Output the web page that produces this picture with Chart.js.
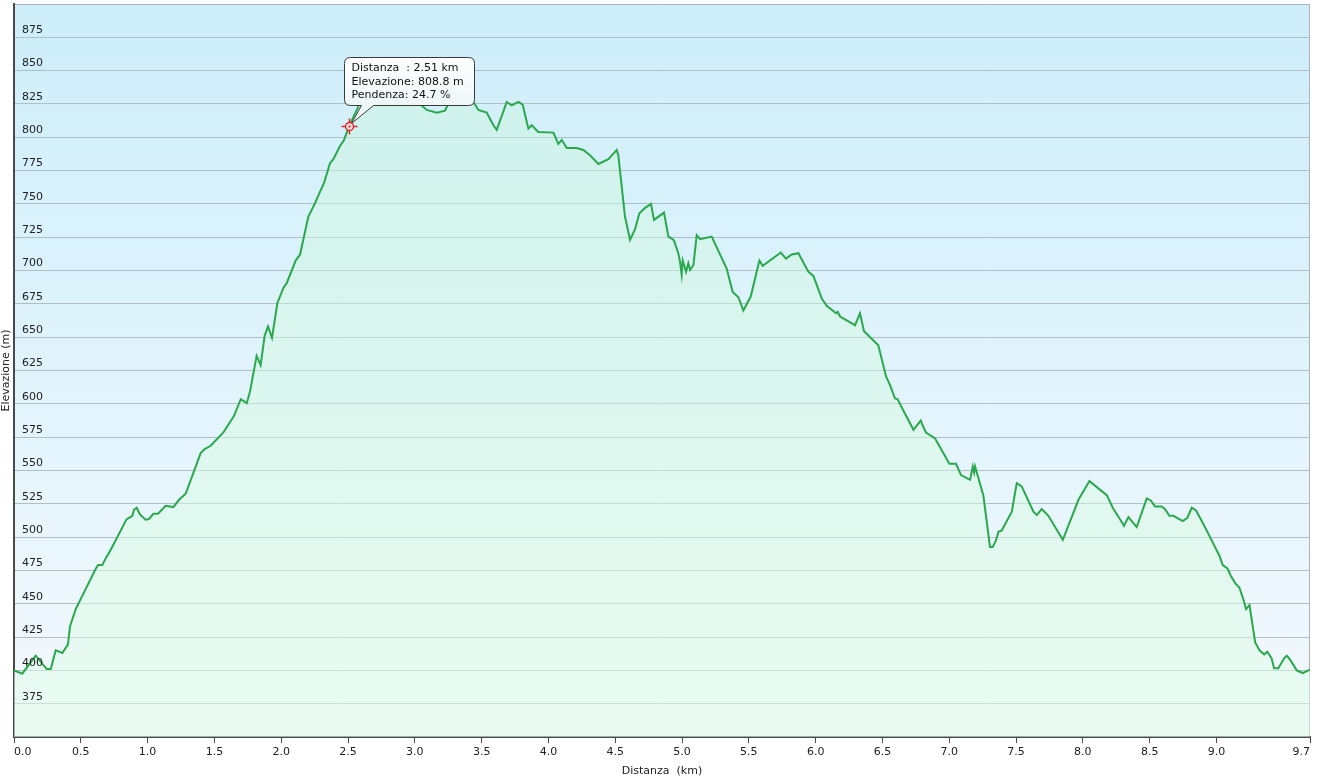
<!DOCTYPE html>
<html>
<head>
<meta charset="utf-8">
<script src="https://cdn.jsdelivr.net/npm/chart.js@4.4.1/dist/chart.umd.min.js"></script>
<style>
  html, body { margin: 0; padding: 0; background: #fff; }
  #wrap { width: 1318px; height: 778px; }
</style>
</head>
<body>
<div id="wrap"><canvas id="profile" width="1318" height="778"></canvas></div>
<script>
// elevation profile
const DIST_KM = [
  0.000, 0.062, 0.162, 0.245, 0.275, 0.312, 0.362, 0.404, 0.419, 0.462,
  0.524, 0.611, 0.629, 0.661, 0.686, 0.724, 0.843, 0.886, 0.898, 0.918,
  0.943, 0.985, 1.010, 1.043, 1.078, 1.135, 1.193, 1.235, 1.285, 1.397,
  1.427, 1.472, 1.567, 1.647, 1.697, 1.742, 1.766, 1.816, 1.846, 1.876,
  1.901, 1.931, 1.971, 2.016, 2.041, 2.108, 2.141, 2.203, 2.253, 2.290,
  2.320, 2.365, 2.390, 2.440, 2.470, 2.510, 2.577, 2.605, 2.687, 2.777,
  2.889, 3.050, 3.089, 3.164, 3.226, 3.263, 3.363, 3.438, 3.476, 3.538,
  3.588, 3.613, 3.688, 3.725, 3.775, 3.807, 3.850, 3.875, 3.924, 4.037,
  4.074, 4.100, 4.137, 4.212, 4.262, 4.311, 4.374, 4.449, 4.511, 4.523,
  4.573, 4.611, 4.648, 4.681, 4.723, 4.768, 4.790, 4.865, 4.898, 4.923,
  4.940, 4.972, 4.985, 4.997, 5.005, 5.030, 5.047, 5.060, 5.085, 5.110,
  5.135, 5.222, 5.334, 5.379, 5.422, 5.459, 5.514, 5.579, 5.604, 5.739,
  5.778, 5.821, 5.871, 5.946, 5.983, 6.046, 6.083, 6.153, 6.165, 6.183,
  6.295, 6.332, 6.362, 6.469, 6.527, 6.557, 6.594, 6.612, 6.732, 6.787,
  6.802, 6.826, 6.894, 7.001, 7.051, 7.088, 7.156, 7.176, 7.186, 7.193,
  7.255, 7.305, 7.325, 7.350, 7.368, 7.393, 7.468, 7.505, 7.542, 7.630,
  7.655, 7.692, 7.742, 7.850, 7.967, 8.049, 8.179, 8.224, 8.308, 8.341,
  8.403, 8.478, 8.508, 8.540, 8.590, 8.615, 8.648, 8.678, 8.748, 8.782,
  8.815, 8.847, 8.890, 8.952, 9.022, 9.047, 9.082, 9.107, 9.140, 9.172,
  9.202, 9.222, 9.247, 9.290, 9.322, 9.357, 9.380, 9.413, 9.431, 9.463,
  9.506, 9.526, 9.551, 9.601, 9.646, 9.688, 9.700
];
const ELEV_M = [
  400.0, 397.5, 411.0, 401.0, 401.0, 415.0, 413.0, 419.5, 433.0, 446.0,
  458.5, 476.0, 479.0, 479.0, 484.0, 490.5, 513.5, 516.0, 520.5, 522.0,
  517.0, 513.0, 513.5, 517.5, 517.5, 523.5, 522.5, 528.0, 532.5, 563.0,
  566.0, 568.5, 578.5, 591.0, 603.5, 600.5, 609.0, 636.0, 629.0, 651.0,
  658.0, 649.5, 675.5, 687.0, 690.5, 707.5, 712.0, 740.5, 750.5, 759.0,
  765.5, 780.5, 783.5, 793.5, 798.0, 808.8, 823.0, 833.0, 845.0, 843.0,
  829.0, 824.0, 820.5, 818.5, 820.0, 828.0, 840.5, 826.5, 820.5, 818.5,
  809.0, 805.5, 826.5, 824.0, 826.5, 824.5, 806.5, 809.0, 804.0, 803.5,
  795.0, 798.0, 792.0, 792.0, 790.5, 786.5, 780.0, 783.5, 790.5, 786.5,
  740.5, 723.0, 731.0, 743.0, 747.0, 750.0, 738.0, 743.5, 725.5, 724.0,
  722.5, 713.0, 706.5, 697.0, 707.5, 699.0, 705.5, 700.5, 704.0, 726.5,
  723.5, 725.5, 701.5, 684.0, 680.0, 670.0, 680.5, 707.5, 703.5, 713.5,
  709.0, 712.0, 713.0, 699.0, 696.0, 679.0, 673.5, 668.0, 669.0, 665.5,
  659.0, 668.0, 654.5, 644.0, 620.5, 614.0, 604.0, 603.5, 580.5, 587.5,
  583.5, 578.5, 574.0, 555.0, 555.0, 546.5, 543.0, 553.0, 548.5, 553.0,
  531.5, 492.5, 492.5, 497.5, 504.0, 505.0, 519.0, 540.5, 538.0, 519.0,
  516.5, 521.0, 516.0, 498.0, 528.0, 542.0, 531.5, 522.0, 508.5, 515.0,
  507.5, 529.0, 527.5, 523.0, 523.0, 521.0, 516.0, 516.0, 512.0, 514.5,
  522.0, 520.0, 512.0, 500.0, 486.0, 479.0, 476.5, 471.0, 465.5, 462.0,
  453.0, 446.0, 449.0, 421.0, 415.0, 412.0, 414.0, 409.0, 401.5, 401.5,
  409.0, 411.0, 408.0, 400.0, 398.0, 400.0, 400.5
];

const X_TICKS = [0, 0.5, 1, 1.5, 2, 2.5, 3, 3.5, 4, 4.5, 5, 5.5, 6, 6.5, 7, 7.5, 8, 8.5, 9, 9.7];
const Y_TICKS = [375, 400, 425, 450, 475, 500, 525, 550, 575, 600, 625, 650, 675, 700, 725, 750, 775, 800, 825, 850, 875];
const Y_MIN = 350, Y_MAX = 900;

// hovered point shown in the picture
const MARKER_KM = 2.51;
const MARKER_ELEV = 808.8;
const CALLOUT_LINES = ['Distanza  : 2.51 km', 'Elevazione: 808.8 m', 'Pendenza: 24.7 %'];

const FONT = "'DejaVu Sans', Verdana, sans-serif";

const plotBackground = {
  id: 'plotBackground',
  beforeDraw(chart) {
    const { ctx, chartArea: a } = chart;
    const g = ctx.createLinearGradient(0, a.top, 0, a.bottom);
    g.addColorStop(0, '#cdeefa');
    g.addColorStop(1, '#f4f9fe');
    ctx.save();
    ctx.fillStyle = g;
    ctx.fillRect(a.left, a.top, a.right - a.left, a.bottom - a.top);
    ctx.strokeStyle = '#a8b2b8';
    ctx.lineWidth = 1;
    ctx.beginPath();
    ctx.moveTo(a.left, a.top + 0.5);
    ctx.lineTo(a.right - 0.5, a.top + 0.5);
    ctx.lineTo(a.right - 0.5, a.bottom);
    ctx.stroke();
    ctx.restore();
  }
};

const callout = {
  id: 'callout',
  afterDatasetsDraw(chart) {
    const { ctx, scales: { x, y } } = chart;
    const px = Math.round(x.getPixelForValue(MARKER_KM)) + 0.5;
    const py = Math.round(y.getPixelForValue(MARKER_ELEV)) + 0.5;
    const bx = px - 5, by = py - 69, bw = 130, bh = 48, r = 6;

    ctx.save();
    // bubble with tail
    ctx.beginPath();
    ctx.moveTo(bx + r, by);
    ctx.lineTo(bx + bw - r, by);
    ctx.quadraticCurveTo(bx + bw, by, bx + bw, by + r);
    ctx.lineTo(bx + bw, by + bh - r);
    ctx.quadraticCurveTo(bx + bw, by + bh, bx + bw - r, by + bh);
    ctx.lineTo(px + 24, by + bh);
    ctx.lineTo(px + 2, py - 3);
    ctx.lineTo(px + 12, by + bh);
    ctx.lineTo(bx + r, by + bh);
    ctx.quadraticCurveTo(bx, by + bh, bx, by + bh - r);
    ctx.lineTo(bx, by + r);
    ctx.quadraticCurveTo(bx, by, bx + r, by);
    ctx.closePath();
    const g = ctx.createLinearGradient(0, by, 0, by + bh);
    g.addColorStop(0, '#ffffff');
    g.addColorStop(1, '#eef6f8');
    ctx.fillStyle = g;
    ctx.fill();
    ctx.strokeStyle = '#3a3a3a';
    ctx.lineWidth = 1;
    ctx.stroke();

    ctx.fillStyle = '#111';
    ctx.font = '11px ' + FONT;
    ctx.textBaseline = 'middle';
    ctx.textAlign = 'left';
    CALLOUT_LINES.forEach((t, i) => ctx.fillText(t, bx + 7, by + 11 + i * 13.5));

    // red target marker
    ctx.strokeStyle = '#e3262e';
    ctx.lineWidth = 1.5;
    ctx.beginPath();
    ctx.arc(px, py, 4, 0, Math.PI * 2);
    ctx.fillStyle = '#ffe6e6';
    ctx.fill();
    ctx.stroke();
    ctx.beginPath();
    ctx.moveTo(px - 8, py); ctx.lineTo(px - 4, py);
    ctx.moveTo(px + 4, py); ctx.lineTo(px + 8, py);
    ctx.moveTo(px, py - 8); ctx.lineTo(px, py - 4);
    ctx.moveTo(px, py + 4); ctx.lineTo(px, py + 8);
    ctx.stroke();
    ctx.fillStyle = '#e3262e';
    ctx.fillRect(px - 1, py - 1, 2, 2);
    ctx.restore();
  }
};

const points = DIST_KM.map((d, i) => ({ x: d, y: ELEV_M[i] }));

new Chart(document.getElementById('profile'), {
  type: 'line',
  data: {
    datasets: [{
      data: points,
      borderColor: '#2aa84c',
      borderWidth: 2,
      pointRadius: 0,
      tension: 0,
      fill: 'start',
      backgroundColor: (c) => {
        const a = c.chart.chartArea;
        if (!a) return 'rgba(210,245,225,0.5)';
        const g = c.chart.ctx.createLinearGradient(0, a.top, 0, a.bottom);
        g.addColorStop(0, 'rgba(200,245,215,0.4)');
        g.addColorStop(1, 'rgba(225,253,232,0.55)');
        return g;
      }
    }]
  },
  options: {
    responsive: false,
    devicePixelRatio: 1,
    animation: false,
    layout: { padding: { top: 4, right: 8, left: 0, bottom: 0 } },
    plugins: { legend: { display: false }, tooltip: { enabled: false } },
    scales: {
      x: {
        type: 'linear',
        min: 0,
        max: 9.7,
        afterFit: (s) => { s.height = 41; s.paddingLeft = 0; s.paddingRight = 0; },
        afterBuildTicks: (s) => { s.ticks = X_TICKS.map(v => ({ value: v })); },
        border: { color: '#4a4a4a', width: 2 },
        grid: { drawOnChartArea: false, drawTicks: true, tickLength: 6, color: '#4a4a4a' },
        ticks: {
          align: 'inner',
          padding: 3,
          maxRotation: 0,
          autoSkip: false,
          color: '#222',
          font: { family: FONT, size: 11 },
          callback: (v) => Number(v).toFixed(1)
        },
        title: {
          display: true,
          text: 'Distanza  (km)',
          color: '#222',
          font: { family: FONT, size: 11 },
          padding: { top: 0, bottom: 0 }
        }
      },
      y: {
        min: Y_MIN,
        max: Y_MAX,
        afterFit: (s) => { s.width = 14; s.paddingTop = 0; s.paddingBottom = 0; },
        afterBuildTicks: (s) => { s.ticks = Y_TICKS.map(v => ({ value: v })); },
        border: { color: '#4a4a4a', width: 2 },
        grid: { drawTicks: false, tickLength: 0, color: '#aebfc8', lineWidth: 1 },
        ticks: {
          z: 1,
          mirror: true,
          padding: 8,
          labelOffset: -7,
          autoSkip: false,
          color: '#222',
          font: { family: FONT, size: 11 }
        },
        title: {
          display: true,
          text: 'Elevazione (m)',
          color: '#222',
          font: { family: FONT, size: 11 },
          padding: { top: 0, bottom: 0 }
        }
      }
    }
  },
  plugins: [plotBackground, callout]
});
</script>
</body>
</html>
